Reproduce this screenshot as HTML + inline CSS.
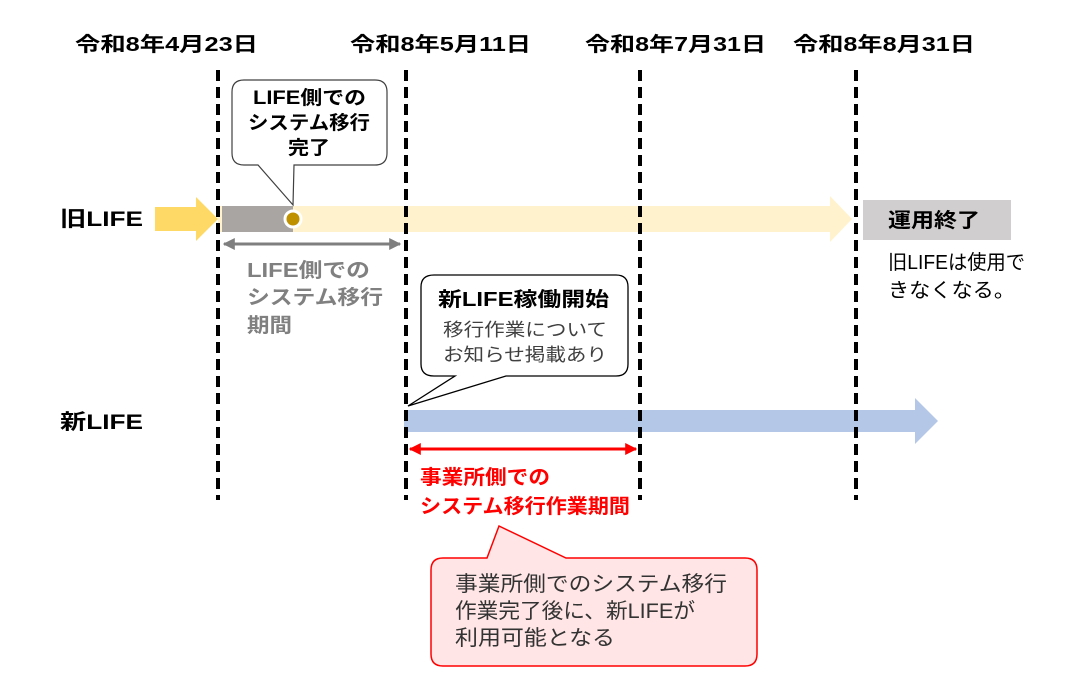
<!DOCTYPE html>
<html><head><meta charset="utf-8"><style>
html,body{margin:0;padding:0;background:#fff;}
svg{display:block;}
text{font-family:"Liberation Sans","Noto Sans CJK JP",sans-serif;}
</style></head><body>
<svg width="1086" height="685" viewBox="0 0 1086 685" xmlns="http://www.w3.org/2000/svg">
<defs>
<marker id="ga" viewBox="0 0 10 10" refX="9" refY="5" markerWidth="4" markerHeight="4" orient="auto-start-reverse"><path d="M0,0L10,5L0,10z" fill="#7f7f7f"/></marker>
<marker id="ra" viewBox="0 0 10 10" refX="9" refY="5" markerWidth="4" markerHeight="4" orient="auto-start-reverse"><path d="M0,0L10,5L0,10z" fill="#ff0000"/></marker>
</defs>
<g font-size="20" font-weight="bold" fill="#000" lengthAdjust="spacingAndGlyphs">
<text x="75" y="51" textLength="183" lengthAdjust="spacingAndGlyphs">令和8年4月23日</text>
<text x="350" y="51" textLength="181" lengthAdjust="spacingAndGlyphs">令和8年5月11日</text>
<text x="585" y="51" textLength="181" lengthAdjust="spacingAndGlyphs">令和8年7月31日</text>
<text x="793" y="51" textLength="182" lengthAdjust="spacingAndGlyphs">令和8年8月31日</text>
</g>
<polygon points="218,206 830,206 830,196 852,219 830,242 830,232 218,232" fill="#FFF2CC"/>
<polygon points="155,207 196,207 196,197 218,219 196,241 196,231 155,231" fill="#FFD966"/>
<rect x="222" y="206" width="71" height="26" fill="#A9A5A3"/>
<polygon points="404,410 915,410 915,398 938,421 915,444 915,432 404,432" fill="#B4C7E7"/>
<g stroke="#000" stroke-width="4" stroke-dasharray="11,6">
<line x1="218" y1="70" x2="218" y2="500"/>
<line x1="406" y1="70" x2="406" y2="500"/>
<line x1="640" y1="70" x2="640" y2="500"/>
<line x1="856" y1="70" x2="856" y2="500"/>
</g>
<circle cx="293" cy="219" r="8" fill="#BF9000" stroke="#fff" stroke-width="3"/>
<path d="M244,80 H375 Q387,80 387,92 V153 Q387,165 375,165 H294 L293,205 L258,165 H244 Q232,165 232,153 V92 Q232,80 244,80 Z" fill="#fff" stroke="#404040" stroke-width="1.2"/>
<g font-size="19" font-weight="bold">
<text x="253" y="104" textLength="113" lengthAdjust="spacingAndGlyphs">LIFE側での</text>
<text x="248" y="129" textLength="122" lengthAdjust="spacingAndGlyphs">システム移行</text>
<text x="288" y="154" textLength="42" lengthAdjust="spacingAndGlyphs">完了</text></g>
<line x1="224" y1="244" x2="400" y2="244" stroke="#7f7f7f" stroke-width="3" marker-start="url(#ga)" marker-end="url(#ga)"/>
<g font-size="20" font-weight="bold" fill="#808080">
<text x="247" y="277" textLength="123" lengthAdjust="spacingAndGlyphs">LIFE側での</text>
<text x="247" y="304" textLength="136" lengthAdjust="spacingAndGlyphs">システム移行</text>
<text x="247" y="332" textLength="45" lengthAdjust="spacingAndGlyphs">期間</text></g>
<g font-size="21" font-weight="bold">
<text x="60" y="226" textLength="83" lengthAdjust="spacingAndGlyphs">旧LIFE</text>
<text x="60" y="429" textLength="83" lengthAdjust="spacingAndGlyphs">新LIFE</text></g>
<rect x="863" y="200" width="148" height="40" fill="#D0CECE"/>
<text x="888" y="227" font-size="20" font-weight="bold" textLength="92" lengthAdjust="spacingAndGlyphs">運用終了</text>
<g font-size="20">
<text x="888" y="269" textLength="137" lengthAdjust="spacingAndGlyphs">旧LIFEは使用で</text>
<text x="888" y="297" textLength="127" lengthAdjust="spacingAndGlyphs">きなくなる。</text></g>
<path d="M434,275 H616 Q628,275 628,287 V364 Q628,376 616,376 H506 L408,406 L455,376 H434 Q421,376 421,364 V287 Q421,275 434,275 Z" fill="#fff" stroke="#000" stroke-width="1.3"/>
<text x="438" y="306" font-size="20" font-weight="bold" textLength="171" lengthAdjust="spacingAndGlyphs">新LIFE稼働開始</text>
<g font-size="18" fill="#404040">
<text x="443" y="336" textLength="164" lengthAdjust="spacingAndGlyphs">移行作業について</text>
<text x="443" y="361" textLength="164" lengthAdjust="spacingAndGlyphs">お知らせ掲載あり</text></g>
<line x1="410" y1="449" x2="636" y2="449" stroke="#ff0000" stroke-width="3" marker-start="url(#ra)" marker-end="url(#ra)"/>
<g font-size="20" font-weight="bold" fill="#ff0000">
<text x="420" y="484" textLength="130" lengthAdjust="spacingAndGlyphs">事業所側での</text>
<text x="420" y="513" textLength="210" lengthAdjust="spacingAndGlyphs">システム移行作業期間</text></g>
<path d="M443,558 H487 L499,526 L566,558 H745 Q757,558 757,570 V654 Q757,666 745,666 H443 Q431,666 431,654 V570 Q431,558 443,558 Z" fill="#FFE5E5" stroke="#ff0000" stroke-width="1.5"/>
<g font-size="21" fill="#333">
<text x="455" y="591" textLength="272" lengthAdjust="spacingAndGlyphs">事業所側でのシステム移行</text>
<text x="455" y="618" textLength="240" lengthAdjust="spacingAndGlyphs">作業完了後に、新LIFEが</text>
<text x="455" y="645" textLength="160" lengthAdjust="spacingAndGlyphs">利用可能となる</text></g>
</svg>
</body></html>
